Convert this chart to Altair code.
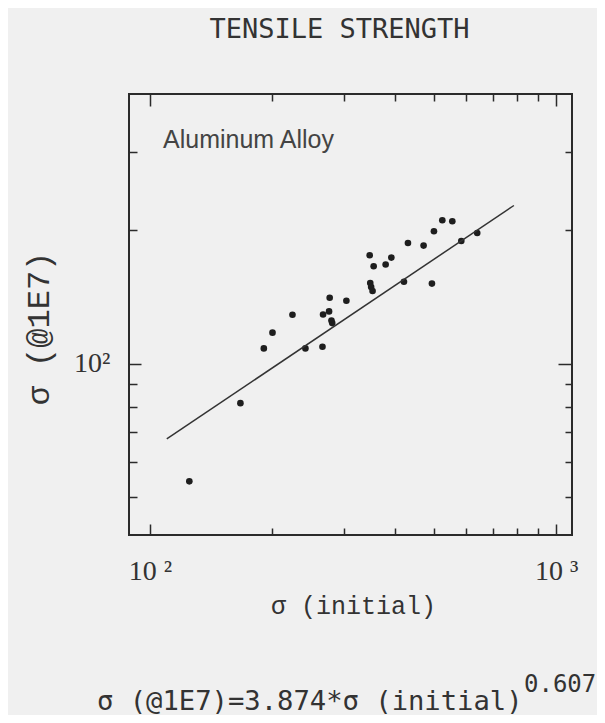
import altair as alt
import pandas as pd

# ---- text ----
title_text = "TENSILE STRENGTH"
x_title = "σ (initial)"
y_title = "σ (@1E7)"
series_label = "Aluminum Alloy"
formula_main = "σ (@1E7)=3.874*σ (initial)"
formula_exp = "0.607"

# ---- data ----
sigma_initial = [125, 167, 190.7, 200.3, 224.3, 241.4, 265.9, 266.8, 276, 277,
                 279.8, 281, 304.5, 347.5, 355.4, 348.6, 350.4, 353.2, 380.4, 392.9,
                 422, 431.7, 471.7, 494.5, 500.2, 524.5, 555.1, 584.1, 639.3]
sigma_1e7 = [54.3, 81.5, 108.3, 117.5, 129, 108.3, 109.2, 129.1, 131.2, 140.9,
             125.2, 123.5, 138.7, 175.6, 165.9, 152, 148.9, 145.9, 167.4, 173.5,
             153.1, 187.2, 184.7, 151.6, 198.9, 210.6, 209.5, 189.1, 197.1]
fit_initial = [110, 787]
fit_1e7 = [67.7, 227.4]

x_major = [100, 1000]
x_minor = [200, 300, 400, 500, 600, 700, 800, 900]
y_major = [100]
y_minor = [50, 60, 70, 80, 90, 200, 300]
x_domain = [88.8, 1094]
y_domain = [41.1, 405.7]

pts = pd.DataFrame({"x": sigma_initial, "y": sigma_1e7})
fit = pd.DataFrame({"x": fit_initial, "y": fit_1e7})

xs = alt.Scale(type="log", domain=x_domain, nice=False, zero=False)
ys = alt.Scale(type="log", domain=y_domain, nice=False, zero=False)

INK = "#2b2b2b"


def ax(orient, values, size, **kw):
    return alt.Axis(orient=orient, values=values, tickSize=size, offset=-size,
                    domain=False, grid=False, tickColor=INK, tickWidth=1.5, **kw)


label_font = dict(labelFont="Liberation Serif", labelFontSize=28, labelColor="#333")

x_bottom_major = ax("bottom", x_major, 11, labels=True,
                    labelExpr="datum.value == 100 ? '10 ²' : '10 ³'",
                    labelPadding=22, labelBaseline="top",
                    titleFont="Liberation Mono", titleFontSize=25, titleColor="#333",
                    titleFontWeight="normal", titleBaseline="alphabetic",
                    titleX=224, titleY=89, **label_font)
y_left_major = ax("left", y_major, 12, labels=True,
                  labelExpr="'10²'", labelPadding=19, labelBaseline="middle",
                  titleFont="Liberation Mono", titleFontSize=32, titleColor="#333",
                  titleFontWeight="normal", titleBaseline="alphabetic",
                  titleAngle=270, titleAlign="center", titleX=-93, titleY=234,
                  **label_font)

points = alt.Chart(pts).mark_circle(size=44, color="#1e1e1e", opacity=1).encode(
    x=alt.X("x:Q", scale=xs, axis=x_bottom_major, title=x_title),
    y=alt.Y("y:Q", scale=ys, axis=y_left_major, title=y_title),
)

line = alt.Chart(fit).mark_line(color="#333", strokeWidth=1.5).encode(
    x=alt.X("x:Q", scale=xs, axis=ax("bottom", x_minor, 7, labels=False), title=None),
    y=alt.Y("y:Q", scale=ys, axis=ax("left", y_minor, 8, labels=False), title=None),
)

top_right_major = alt.Chart(pts).mark_circle(opacity=0).encode(
    x=alt.X("x:Q", scale=xs, axis=ax("top", x_major, 12, labels=False), title=None),
    y=alt.Y("y:Q", scale=ys, axis=ax("right", y_major, 14, labels=False), title=None),
)

top_right_minor = alt.Chart(fit).mark_line(opacity=0).encode(
    x=alt.X("x:Q", scale=xs, axis=ax("top", x_minor, 7, labels=False), title=None),
    y=alt.Y("y:Q", scale=ys, axis=ax("right", y_minor, 7, labels=False), title=None),
)

series_text = alt.Chart(pd.DataFrame({"t": [series_label]})).mark_text(
    align="left", baseline="alphabetic", font="Liberation Sans", fontSize=25,
    color="#444"
).encode(x=alt.value(34), y=alt.value(54), text="t:N")

formula_text = alt.Chart(pd.DataFrame({"t": [formula_main]})).mark_text(
    align="left", baseline="alphabetic", font="DejaVu Sans Mono", fontSize=27.2,
    color="#333"
).encode(x=alt.value(-32), y=alt.value(616), text="t:N")

exp_text = alt.Chart(pd.DataFrame({"t": [formula_exp]})).mark_text(
    align="left", baseline="alphabetic", font="DejaVu Sans Mono", fontSize=24,
    color="#333"
).encode(x=alt.value(395), y=alt.value(598), text="t:N")

chart = alt.layer(
    points, line, top_right_major, top_right_minor, series_text, formula_text, exp_text
).resolve_axis(
    x="independent", y="independent"
).properties(
    width=443,
    height=441,
    autosize=alt.AutoSizeParams(type="none"),
    padding={"left": 121, "top": 86, "right": 25, "bottom": 180},
    background="#f0f0f0",
    title=alt.Title(title_text, font="DejaVu Sans Mono", fontSize=27,
                    fontWeight="normal", color="#333", anchor="middle",
                    frame="group", dx=-11, offset=28, baseline="alphabetic"),
).configure_view(
    stroke=INK, strokeWidth=2
)

chart.save("out.html", embed_options={"renderer": "svg", "actions": False})
